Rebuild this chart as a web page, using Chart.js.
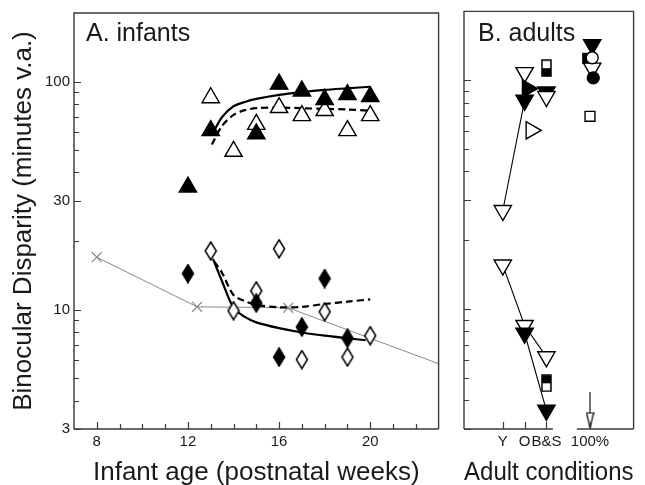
<!DOCTYPE html>
<html>
<head>
<meta charset="utf-8">
<script src="https://cdn.jsdelivr.net/npm/chart.js@4.4.1/dist/chart.umd.min.js"></script>
<style>
  html, body { margin: 0; padding: 0; background: #fff; }
  #wrap { position: relative; width: 645px; height: 485px; }
  #boxA { position: absolute; left: 0; top: 0; width: 450px; height: 485px; }
  #boxB { position: absolute; left: 450px; top: 0; width: 195px; height: 485px; }
</style>
</head>
<body>
<div id="wrap">
  <div id="boxA"><canvas id="chartA"></canvas></div>
  <div id="boxB"><canvas id="chartB"></canvas></div>
</div>
<script>
const FONT = "'Liberation Sans', Arial, Helvetica, sans-serif";
Chart.defaults.font.family = FONT;
Chart.defaults.color = "#1a1a1a";

// ---- tick values ----
const ageTicks = [8, 12, 16, 20];
const ageMinorTicks = [8, 9, 10, 11, 12, 13, 14, 15, 16, 17, 18, 19, 20, 21, 22];
const disparityTicks = [3, 10, 30, 100];
const disparityMinorTicks = [3, 4, 5, 6, 7, 8, 9, 10, 20, 30, 40, 50, 60, 70, 80, 90, 100];

// ---- panel A: infants (x = age in weeks) ----
const filledTriAge = [12, 13, 15, 16, 17, 18, 19, 20];
const filledTriVal = [34.5, 61, 59, 97.5, 91, 83.5, 87.7, 86];
const openTriAge = [13, 14, 15, 16, 17, 18, 19, 20];
const openTriVal = [85, 49.5, 65, 77, 71, 74.7, 61, 71];
const filledDiaAge = [12, 15, 16, 17, 18, 19];
const filledDiaVal = [14.4, 10.7, 6.2, 8.4, 13.7, 7.5];
const openDiaAge = [13, 14, 15, 16, 17, 18, 19, 20];
const openDiaVal = [18.1, 9.9, 12.1, 18.5, 6.05, 9.8, 6.2, 7.7];
const crossAge = [8, 12.4, 16.4, 23];
const crossVal = [17, 10.3, 10.2, 5.8];

const solidUpAge = [13.15, 13.5, 14, 14.5, 15, 16, 17, 18, 19, 20];
const solidUpVal = [61, 70, 78, 81.5, 84, 87.5, 90, 92, 93.5, 95];
const dashUpAge = [13.05, 13.5, 14, 14.5, 15, 16, 17, 18, 19, 20];
const dashUpVal = [53, 64, 71.5, 75, 76.5, 77, 76.5, 76, 75.5, 74.5];
const solidLowAge = [13.1, 13.5, 14, 14.5, 15, 16, 17, 18, 19, 19.8];
const solidLowVal = [16.7, 13.3, 10.2, 9.3, 8.8, 8.3, 7.95, 7.7, 7.5, 7.35];
const dashLowAge = [13.15, 13.5, 14, 14.5, 15, 16, 17, 18, 19, 20];
const dashLowVal = [16.3, 14.5, 11.6, 10.9, 10.5, 10.25, 10.3, 10.6, 10.85, 11.1];

// ---- panel B: adults (x = condition position) ----
const adultCats = ["Y", "O", "B&S", "100%"];
const adultCatPos = [1, 2, 3, 5];

const upOpenDownX = [1, 2, 3, 5.1];
const upOpenDownY = [27, 108, 85, 113];
const upFilledDownX = [2, 3, 5.1];
const upFilledDownY = [81.8, 89, 143];
const lowOpenDownX = [1, 2, 3];
const lowOpenDownY = [15.6, 8.5, 6.2];
const lowFilledDownX = [2, 3];
const lowFilledDownY = [7.86, 3.62];
const filledRightX = [2.13];
const filledRightY = [92];
const openRightX = [2.3];
const openRightY = [60.5];
const halfWhiteTopX = [3];
const halfWhiteTopY = [113];
const halfBlackTopX = [3];
const halfBlackTopY = [4.75];
const filledSquareX = [4.9];
const filledSquareY = [124.7];
const openCircleX = [5.1];
const openCircleY = [125.4];
const filledCircleX = [5.15];
const filledCircleY = [102.5];
const openSquareX = [5];
const openSquareY = [69.6];
const arrowX = [5, 5];
const arrowY = [4.35, 3.27];
const upLineX = [1, 2];
const upLineY = [27, 81.8];

const pts = (xs, ys) => xs.map((x, i) => ({ x: x, y: ys[i] }));

// custom marker shapes
function marker(w, h, draw) {
  const c = document.createElement("canvas");
  c.width = w; c.height = h;
  const g = c.getContext("2d");
  g.lineWidth = 1.5;
  g.strokeStyle = "#000";
  draw(g, w, h);
  return c;
}
function diamond(filled) {
  return marker(14, 20, (g, w, h) => {
    g.beginPath();
    g.moveTo(w / 2, 1); g.lineTo(w - 1.5, h / 2); g.lineTo(w / 2, h - 1); g.lineTo(1.5, h / 2);
    g.closePath();
    g.fillStyle = filled ? "#000" : "#fff";
    g.fill(); g.stroke();
  });
}
function halfRect(blackTop) {
  return marker(11, 18, (g, w, h) => {
    g.fillStyle = "#fff";
    g.fillRect(1, 1, w - 2, h - 2);
    g.fillStyle = "#000";
    if (blackTop) g.fillRect(1, 1, w - 2, (h - 2) / 2);
    else g.fillRect(1, h / 2, w - 2, (h - 2) / 2);
    g.strokeRect(1, 1, w - 2, h - 2);
  });
}
const diaOpen = diamond(false);
const diaFilled = diamond(true);
const rectWhiteTop = halfRect(false);
const rectBlackTop = halfRect(true);
const arrowHead = marker(9, 17, (g, w, h) => {
  g.lineWidth = 1.2;
  g.beginPath();
  g.moveTo(1, 1); g.lineTo(w - 1, 1); g.lineTo(w / 2, h - 1); g.closePath();
  g.fillStyle = "#fff"; g.fill(); g.stroke();
});

function mk(data, style, filled, extra) {
  return Object.assign({
    data: data,
    pointStyle: style,
    pointRadius: 10,
    pointBackgroundColor: filled ? "#000" : "#fff",
    pointBorderColor: "#000",
    pointBorderWidth: 1.4,
    showLine: false,
    order: 2
  }, extra || {});
}
function curve(data, dashed, extra) {
  return Object.assign({
    data: data,
    showLine: true,
    borderColor: "#000",
    borderWidth: 2.2,
    borderDash: dashed ? [7, 4] : [],
    pointRadius: 0,
    tension: 0.3,
    order: 10
  }, extra || {});
}

// frame + inward tick marks
const axisFrame = {
  id: "axisFrame",
  afterDraw(chart, args, opts) {
    const { ctx, chartArea: a, scales } = chart;
    const xs = scales.x, ys = scales.y;
    ctx.save();
    ctx.strokeStyle = "#3a3a3a";
    ctx.lineWidth = 1.4;
    ctx.beginPath();
    ctx.moveTo(a.left, a.bottom); ctx.lineTo(a.left, a.top);
    ctx.lineTo(a.right, a.top); ctx.lineTo(a.right, a.bottom);
    opts.bottom.forEach(seg => {
      ctx.moveTo(xs.getPixelForValue(seg[0]), a.bottom);
      ctx.lineTo(xs.getPixelForValue(seg[1]), a.bottom);
    });
    ctx.stroke();
    ctx.lineWidth = 1.2;
    ctx.beginPath();
    disparityMinorTicks.forEach(v => {
      const py = Math.round(ys.getPixelForValue(v)) + 0.5;
      const len = disparityTicks.includes(v) ? 7 : 5;
      ctx.moveTo(a.left, py); ctx.lineTo(a.left + len, py);
    });
    opts.xTicks.forEach(v => {
      const px = Math.round(xs.getPixelForValue(v)) + 0.5;
      const len = opts.xMajor.includes(v) ? 7 : 5;
      ctx.moveTo(px, a.bottom); ctx.lineTo(px, a.bottom - len);
    });
    ctx.stroke();
    ctx.font = "25px " + FONT;
    ctx.fillStyle = "#1a1a1a";
    ctx.textBaseline = "alphabetic";
    ctx.fillText(opts.label, a.left + opts.labelDx, 41);
    ctx.restore();
  }
};

const tickFont = { family: FONT, size: 15 };
const titleFont = { family: FONT, size: 26, lineHeight: 0.9 };

function yScale(showLabels) {
  return {
    type: "logarithmic",
    min: 3,
    max: 200,
    display: showLabels,
    afterBuildTicks: s => { s.ticks = disparityTicks.map(v => ({ value: v })); },
    afterFit: s => { s.width = showLabels ? 74 : 0; },
    ticks: { font: tickFont, padding: 4, autoSkip: false, callback: v => String(v) },
    grid: { display: false, drawTicks: false },
    border: { display: false },
    title: {
      display: showLabels,
      text: "Binocular Disparity (minutes v.a.)",
      font: { family: FONT, size: 26 },
      padding: { top: 8, bottom: 0 }
    }
  };
}

new Chart(document.getElementById("chartA"), {
  type: "scatter",
  data: {
    datasets: [
      mk(pts(filledTriAge, filledTriVal), "triangle", true, { order: 2 }),
      mk(pts(openTriAge, openTriVal), "triangle", false, { order: 3 }),
      mk(pts(filledDiaAge, filledDiaVal), diaFilled, true, { order: 2 }),
      mk(pts(openDiaAge, openDiaVal), diaOpen, false, { order: 3 }),
      {
        data: pts(crossAge, crossVal),
        showLine: true,
        borderColor: "#8a8a8a",
        borderWidth: 1,
        pointStyle: "crossRot",
        pointRadius: [7, 7, 7, 0],
        pointBorderColor: "#8a8a8a",
        pointBorderWidth: 1.2,
        order: 12
      },
      curve(pts(solidUpAge, solidUpVal), false),
      curve(pts(dashUpAge, dashUpVal), true),
      curve(pts(solidLowAge, solidLowVal), false),
      curve(pts(dashLowAge, dashLowVal), true)
    ]
  },
  options: {
    responsive: true,
    maintainAspectRatio: false,
    animation: false,
    layout: { padding: { left: 0, right: 11, top: 11, bottom: 0 } },
    plugins: {
      legend: { display: false },
      tooltip: { enabled: false },
      axisFrame: { bottom: [[7, 23]], xTicks: ageMinorTicks, xMajor: ageTicks, label: "A. infants", labelDx: 12 }
    },
    scales: {
      x: {
        type: "linear",
        min: 7,
        max: 23,
        afterBuildTicks: s => { s.ticks = ageTicks.map(v => ({ value: v })); },
        afterFit: s => { s.height = 56; },
        ticks: { font: tickFont, padding: 4, autoSkip: false, maxRotation: 0, callback: v => String(v) },
        grid: { display: false, drawTicks: false },
        border: { display: false },
        title: { display: true, text: "Infant age (postnatal weeks)", font: titleFont, padding: 0 }
      },
      y: yScale(true)
    }
  },
  plugins: [axisFrame]
});

new Chart(document.getElementById("chartB"), {
  type: "scatter",
  data: {
    datasets: [
      curve(pts(upLineX, upLineY), false, { borderWidth: 1.1, tension: 0, order: 10 }),
      curve(pts(lowOpenDownX, lowOpenDownY), false, { borderWidth: 1.1, tension: 0, order: 10 }),
      curve(pts(lowFilledDownX, lowFilledDownY), false, { borderWidth: 1.1, tension: 0, order: 10 }),
      {
        data: pts(arrowX, arrowY),
        showLine: true,
        borderColor: "#000",
        borderWidth: 1.1,
        pointStyle: c => (c.dataIndex === 1 ? arrowHead : "circle"),
        pointRadius: [0, 8],
        order: 9
      },
      mk(pts(upFilledDownX, upFilledDownY), "triangle", true, { rotation: 180, order: 5 }),
      mk(pts(upOpenDownX, upOpenDownY), "triangle", false, { rotation: 180, order: 4 }),
      mk(pts(lowOpenDownX, lowOpenDownY), "triangle", false, { rotation: 180, order: 5 }),
      mk(pts(lowFilledDownX, lowFilledDownY), "triangle", true, { rotation: 180, order: 4 }),
      mk(pts(filledRightX, filledRightY), "triangle", true, { rotation: 90, order: 3 }),
      mk(pts(openRightX, openRightY), "triangle", false, { rotation: 90, order: 3 }),
      mk(pts(halfWhiteTopX, halfWhiteTopY), rectWhiteTop, false, { order: 3 }),
      mk(pts(halfBlackTopX, halfBlackTopY), rectBlackTop, false, { order: 3 }),
      mk(pts(filledSquareX, filledSquareY), "rect", true, { pointRadius: 7, order: 6 }),
      mk(pts(openCircleX, openCircleY), "circle", false, { pointRadius: 6, order: 3 }),
      mk(pts(filledCircleX, filledCircleY), "circle", true, { pointRadius: 6, order: 2 }),
      mk(pts(openSquareX, openSquareY), "rect", false, { pointRadius: 7, order: 3 })
    ]
  },
  options: {
    responsive: true,
    maintainAspectRatio: false,
    animation: false,
    layout: { padding: { left: 14, right: 2, top: 11, bottom: 0 } },
    plugins: {
      legend: { display: false },
      tooltip: { enabled: false },
      axisFrame: { bottom: [[-0.78, 3.3], [4.4, 7]], xTicks: adultCatPos, xMajor: adultCatPos, label: "B. adults", labelDx: 14 }
    },
    scales: {
      x: {
        type: "linear",
        min: -0.78,
        max: 7,
        afterBuildTicks: s => { s.ticks = adultCatPos.map(v => ({ value: v })); },
        afterFit: s => { s.height = 56; },
        ticks: {
          font: tickFont, padding: 4, autoSkip: false, maxRotation: 0,
          callback: v => adultCats[adultCatPos.indexOf(v)]
        },
        grid: { display: false, drawTicks: false },
        border: { display: false },
        title: { display: true, text: "Adult conditions", font: titleFont, padding: 0 }
      },
      y: yScale(false)
    }
  },
  plugins: [axisFrame]
});
</script>
</body>
</html>
